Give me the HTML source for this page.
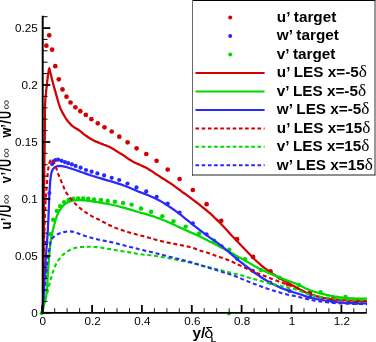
<!DOCTYPE html><html><head><meta charset="utf-8"><style>html,body{margin:0;padding:0;background:#fff;overflow:hidden}svg{display:block}text{font-family:"Liberation Sans",sans-serif}</style></head><body>
<svg width="376" height="342" viewBox="0 0 376 342">
<rect width="376" height="342" fill="#fff"/>
<defs><clipPath id="c"><rect x="41" y="0" width="325.9" height="316"/></clipPath></defs>
<g clip-path="url(#c)" fill="none" stroke-linejoin="bevel">
<circle cx="46.4" cy="45.7" r="2.35" fill="#d20000" stroke="none"/>
<circle cx="49.2" cy="35.3" r="2.35" fill="#d20000" stroke="none"/>
<circle cx="52.1" cy="49.7" r="2.35" fill="#d20000" stroke="none"/>
<circle cx="55.3" cy="66.2" r="2.35" fill="#d20000" stroke="none"/>
<circle cx="58.8" cy="79.3" r="2.35" fill="#d20000" stroke="none"/>
<circle cx="62.5" cy="89.4" r="2.35" fill="#d20000" stroke="none"/>
<circle cx="66.5" cy="96.7" r="2.35" fill="#d20000" stroke="none"/>
<circle cx="70.5" cy="102.5" r="2.35" fill="#d20000" stroke="none"/>
<circle cx="75.4" cy="107.3" r="2.35" fill="#d20000" stroke="none"/>
<circle cx="80.3" cy="111.2" r="2.35" fill="#d20000" stroke="none"/>
<circle cx="85.8" cy="114.9" r="2.35" fill="#d20000" stroke="none"/>
<circle cx="91.4" cy="119.2" r="2.35" fill="#d20000" stroke="none"/>
<circle cx="97.8" cy="123.3" r="2.35" fill="#d20000" stroke="none"/>
<circle cx="104.5" cy="127.3" r="2.35" fill="#d20000" stroke="none"/>
<circle cx="111.7" cy="131.5" r="2.35" fill="#d20000" stroke="none"/>
<circle cx="119.3" cy="136.7" r="2.35" fill="#d20000" stroke="none"/>
<circle cx="127.6" cy="142.3" r="2.35" fill="#d20000" stroke="none"/>
<circle cx="136.6" cy="148.3" r="2.35" fill="#d20000" stroke="none"/>
<circle cx="146.3" cy="154.0" r="2.35" fill="#d20000" stroke="none"/>
<circle cx="156.6" cy="160.8" r="2.35" fill="#d20000" stroke="none"/>
<circle cx="167.7" cy="169.6" r="2.35" fill="#d20000" stroke="none"/>
<circle cx="179.6" cy="179.0" r="2.35" fill="#d20000" stroke="none"/>
<circle cx="192.8" cy="190.0" r="2.35" fill="#d20000" stroke="none"/>
<circle cx="206.6" cy="204.2" r="2.35" fill="#d20000" stroke="none"/>
<circle cx="221.2" cy="220.9" r="2.35" fill="#d20000" stroke="none"/>
<circle cx="237.0" cy="239.2" r="2.35" fill="#d20000" stroke="none"/>
<circle cx="253.1" cy="256.9" r="2.35" fill="#d20000" stroke="none"/>
<circle cx="270.5" cy="271.4" r="2.35" fill="#d20000" stroke="none"/>
<circle cx="288.2" cy="284.2" r="2.35" fill="#d20000" stroke="none"/>
<circle cx="310.0" cy="292.7" r="2.35" fill="#d20000" stroke="none"/>
<circle cx="333.4" cy="298.4" r="2.35" fill="#d20000" stroke="none"/>
<circle cx="357.0" cy="300.8" r="2.35" fill="#d20000" stroke="none"/>
<circle cx="46.4" cy="242.5" r="2.10" fill="#2828ff" stroke="none"/>
<circle cx="49.4" cy="193.1" r="2.10" fill="#2828ff" stroke="none"/>
<circle cx="52.1" cy="164.1" r="2.10" fill="#2828ff" stroke="none"/>
<circle cx="53.4" cy="161.4" r="2.10" fill="#2828ff" stroke="none"/>
<circle cx="55.5" cy="160.0" r="2.10" fill="#2828ff" stroke="none"/>
<circle cx="58.1" cy="159.7" r="2.10" fill="#2828ff" stroke="none"/>
<circle cx="61.5" cy="160.8" r="2.10" fill="#2828ff" stroke="none"/>
<circle cx="64.9" cy="162.1" r="2.10" fill="#2828ff" stroke="none"/>
<circle cx="68.2" cy="163.2" r="2.10" fill="#2828ff" stroke="none"/>
<circle cx="71.9" cy="164.4" r="2.10" fill="#2828ff" stroke="none"/>
<circle cx="75.6" cy="165.9" r="2.10" fill="#2828ff" stroke="none"/>
<circle cx="80.6" cy="167.7" r="2.10" fill="#2828ff" stroke="none"/>
<circle cx="86.0" cy="170.0" r="2.10" fill="#2828ff" stroke="none"/>
<circle cx="91.6" cy="171.7" r="2.10" fill="#2828ff" stroke="none"/>
<circle cx="97.4" cy="173.4" r="2.10" fill="#2828ff" stroke="none"/>
<circle cx="104.1" cy="175.4" r="2.10" fill="#2828ff" stroke="none"/>
<circle cx="111.7" cy="177.8" r="2.10" fill="#2828ff" stroke="none"/>
<circle cx="119.2" cy="180.0" r="2.10" fill="#2828ff" stroke="none"/>
<circle cx="127.5" cy="183.5" r="2.10" fill="#2828ff" stroke="none"/>
<circle cx="136.5" cy="187.4" r="2.10" fill="#2828ff" stroke="none"/>
<circle cx="146.2" cy="191.4" r="2.10" fill="#2828ff" stroke="none"/>
<circle cx="156.7" cy="196.8" r="2.10" fill="#2828ff" stroke="none"/>
<circle cx="167.7" cy="203.5" r="2.10" fill="#2828ff" stroke="none"/>
<circle cx="179.6" cy="212.6" r="2.10" fill="#2828ff" stroke="none"/>
<circle cx="192.8" cy="223.3" r="2.10" fill="#2828ff" stroke="none"/>
<circle cx="206.5" cy="234.3" r="2.10" fill="#2828ff" stroke="none"/>
<circle cx="221.6" cy="246.4" r="2.10" fill="#2828ff" stroke="none"/>
<circle cx="237.2" cy="258.8" r="2.10" fill="#2828ff" stroke="none"/>
<circle cx="252.9" cy="270.9" r="2.10" fill="#2828ff" stroke="none"/>
<circle cx="270.1" cy="282.6" r="2.10" fill="#2828ff" stroke="none"/>
<circle cx="289.5" cy="291.0" r="2.10" fill="#2828ff" stroke="none"/>
<circle cx="310.0" cy="297.2" r="2.10" fill="#2828ff" stroke="none"/>
<circle cx="332.6" cy="301.2" r="2.10" fill="#2828ff" stroke="none"/>
<circle cx="356.0" cy="303.0" r="2.10" fill="#2828ff" stroke="none"/>
<circle cx="46.5" cy="272.0" r="2.20" fill="#00d800" stroke="none"/>
<circle cx="50.5" cy="234.2" r="2.20" fill="#00d800" stroke="none"/>
<circle cx="53.2" cy="219.7" r="2.20" fill="#00d800" stroke="none"/>
<circle cx="56.9" cy="210.9" r="2.20" fill="#00d800" stroke="none"/>
<circle cx="60.1" cy="206.1" r="2.20" fill="#00d800" stroke="none"/>
<circle cx="64.1" cy="202.1" r="2.20" fill="#00d800" stroke="none"/>
<circle cx="68.6" cy="200.0" r="2.20" fill="#00d800" stroke="none"/>
<circle cx="73.3" cy="198.8" r="2.20" fill="#00d800" stroke="none"/>
<circle cx="78.1" cy="198.4" r="2.20" fill="#00d800" stroke="none"/>
<circle cx="83.1" cy="198.4" r="2.20" fill="#00d800" stroke="none"/>
<circle cx="88.2" cy="198.8" r="2.20" fill="#00d800" stroke="none"/>
<circle cx="94.0" cy="199.4" r="2.20" fill="#00d800" stroke="none"/>
<circle cx="100.9" cy="200.0" r="2.20" fill="#00d800" stroke="none"/>
<circle cx="107.7" cy="200.9" r="2.20" fill="#00d800" stroke="none"/>
<circle cx="114.9" cy="201.8" r="2.20" fill="#00d800" stroke="none"/>
<circle cx="123.1" cy="203.0" r="2.20" fill="#00d800" stroke="none"/>
<circle cx="131.6" cy="204.6" r="2.20" fill="#00d800" stroke="none"/>
<circle cx="141.0" cy="208.5" r="2.20" fill="#00d800" stroke="none"/>
<circle cx="151.1" cy="211.8" r="2.20" fill="#00d800" stroke="none"/>
<circle cx="162.3" cy="216.2" r="2.20" fill="#00d800" stroke="none"/>
<circle cx="173.5" cy="221.3" r="2.20" fill="#00d800" stroke="none"/>
<circle cx="185.7" cy="226.6" r="2.20" fill="#00d800" stroke="none"/>
<circle cx="199.1" cy="233.4" r="2.20" fill="#00d800" stroke="none"/>
<circle cx="214.2" cy="240.8" r="2.20" fill="#00d800" stroke="none"/>
<circle cx="229.3" cy="249.6" r="2.20" fill="#00d800" stroke="none"/>
<circle cx="245.0" cy="259.2" r="2.20" fill="#00d800" stroke="none"/>
<circle cx="260.9" cy="270.0" r="2.20" fill="#00d800" stroke="none"/>
<circle cx="279.4" cy="277.7" r="2.20" fill="#00d800" stroke="none"/>
<circle cx="299.0" cy="285.0" r="2.20" fill="#00d800" stroke="none"/>
<circle cx="320.5" cy="292.3" r="2.20" fill="#00d800" stroke="none"/>
<circle cx="345.5" cy="297.0" r="2.20" fill="#00d800" stroke="none"/>
<path d="M42.8,313.0 L42.8,311.8 L42.9,310.5 L42.9,309.3 L42.9,308.1 L42.9,306.8 L42.9,305.6 L43.0,304.4 L43.0,303.2 L43.0,301.9 L43.0,300.7 L43.1,299.5 L43.1,298.2 L43.1,297.0 L43.1,295.8 L43.1,294.5 L43.1,293.3 L43.2,292.1 L43.2,290.8 L43.2,289.6 L43.2,288.4 L43.2,287.2 L43.2,285.9 L43.3,284.7 L43.3,283.5 L43.3,282.2 L43.3,281.0 L43.3,279.8 L43.3,278.5 L43.3,277.3 L43.4,276.1 L43.4,274.8 L43.4,273.6 L43.4,272.4 L43.4,271.2 L43.4,269.9 L43.4,268.7 L43.4,267.5 L43.5,266.2 L43.5,265.0 L43.5,263.8 L43.5,262.5 L43.5,261.3 L43.5,260.1 L43.5,258.8 L43.5,257.6 L43.5,256.4 L43.5,255.1 L43.6,253.9 L43.6,252.7 L43.6,251.5 L43.6,250.2 L43.6,249.0 L43.6,247.8 L43.6,246.5 L43.6,245.3 L43.6,244.1 L43.6,242.8 L43.7,241.6 L43.7,240.4 L43.7,239.1 L43.7,237.9 L43.7,236.7 L43.7,235.5 L43.7,234.2 L43.7,233.0 L43.7,231.8 L43.7,230.5 L43.8,229.3 L43.8,228.1 L43.8,226.8 L43.8,225.6 L43.8,224.4 L43.8,223.1 L43.8,221.9 L43.8,220.7 L43.8,219.5 L43.8,218.2 L43.9,217.0 L43.9,215.8 L43.9,214.5 L43.9,213.3 L43.9,212.1 L43.9,210.8 L43.9,209.6 L43.9,208.4 L43.9,207.1 L44.0,205.9 L44.0,204.7 L44.0,203.5 L44.0,202.2 L44.0,201.0 L44.0,199.8 L44.0,198.5 L44.0,197.3 L44.0,196.1 L44.1,194.8 L44.1,193.6 L44.1,192.4 L44.1,191.1 L44.1,189.9 L44.1,188.7 L44.1,187.4 L44.1,186.2 L44.1,185.0 L44.2,183.8 L44.2,182.5 L44.2,181.3 L44.2,180.1 L44.2,178.8 L44.2,177.6 L44.2,176.4 L44.2,175.1 L44.3,173.9 L44.3,172.7 L44.3,171.4 L44.3,170.2 L44.3,169.0 L44.3,167.8 L44.3,166.5 L44.4,165.3 L44.4,164.1 L44.4,162.8 L44.4,161.6 L44.4,160.4 L44.4,159.1 L44.5,157.9 L44.5,156.7 L44.5,155.4 L44.5,154.2 L44.5,153.0 L44.6,151.8 L44.6,150.5 L44.6,149.3 L44.6,148.1 L44.6,146.8 L44.7,145.6 L44.7,144.4 L44.7,143.1 L44.7,141.9 L44.7,140.7 L44.8,139.4 L44.8,138.2 L44.8,137.0 L44.8,135.8 L44.8,134.5 L44.8,133.3 L44.9,132.1 L44.9,130.8 L44.9,129.6 L44.9,128.4 L44.9,127.1 L44.9,125.9 L44.9,124.7 L44.9,123.4 L44.9,122.2 L44.9,121.0 L44.9,119.7 L44.9,118.5 L44.9,117.3 L44.9,116.0 L44.9,114.8 L44.9,113.6 L44.9,112.4 L44.9,111.1 L44.9,109.9 L45.0,108.7 L45.0,107.4 L45.0,106.2 L45.1,105.0 L45.1,103.7 L45.2,102.5 L45.3,101.3 L45.3,100.1 L45.4,98.8 L45.5,97.6 L45.6,96.4 L45.7,95.2 L45.9,93.9 L46.0,92.7 L46.1,91.5 L46.3,90.3 L46.4,89.0 L46.5,87.8 L46.7,86.6 L46.8,85.4 L46.9,84.1 L47.1,82.9 L47.2,81.7 L47.3,80.5 L47.5,79.2 L47.6,78.0 L47.8,76.8 L47.9,75.6 L48.1,74.4 L48.3,73.1 L48.5,71.9 L48.7,70.7 L48.9,69.5 L49.2,68.3 L49.2,68.3 L49.8,70.3 L50.3,72.3 L50.8,74.3 L51.3,76.3 L51.8,78.4 L52.3,80.4 L52.8,82.4 L53.3,84.4 L53.9,86.4 L54.4,88.4 L55.0,90.4 L55.6,92.4 L56.1,94.4 L56.7,96.4 L57.3,98.4 L57.8,100.5 L58.4,102.5 L59.0,104.4 L59.7,106.4 L60.4,108.4 L61.3,110.2 L62.2,112.1 L63.2,113.9 L64.3,115.8 L65.3,117.5 L66.5,119.3 L67.7,121.0 L69.0,122.6 L70.4,124.1 L71.9,125.6 L73.6,126.8 L75.3,128.0 L77.1,129.0 L78.9,130.2 L80.5,131.4 L82.1,132.7 L83.7,134.1 L85.4,135.3 L87.1,136.5 L88.8,137.7 L90.6,138.8 L92.4,139.8 L94.2,140.8 L96.1,141.6 L98.1,142.4 L100.0,143.2 L101.9,143.9 L103.9,144.7 L105.8,145.4 L107.8,146.2 L109.7,147.1 L111.5,148.0 L113.3,149.0 L115.1,150.1 L116.8,151.3 L118.6,152.4 L120.4,153.5 L122.2,154.5 L123.9,155.6 L125.6,156.8 L127.3,158.1 L129.0,159.2 L130.8,160.3 L132.6,161.4 L134.4,162.4 L136.3,163.3 L138.2,164.1 L140.1,165.0 L142.0,165.8 L143.9,166.7 L145.7,167.6 L147.6,168.6 L149.4,169.7 L151.1,170.8 L152.9,171.9 L154.6,173.1 L156.3,174.3 L158.1,175.4 L159.8,176.5 L161.6,177.7 L163.3,178.8 L165.1,179.9 L166.9,181.0 L168.6,182.1 L170.3,183.2 L172.1,184.4 L173.8,185.6 L175.4,186.8 L177.1,188.1 L178.8,189.3 L180.5,190.5 L182.1,191.8 L183.8,193.0 L185.5,194.2 L187.2,195.4 L188.9,196.7 L190.6,197.9 L192.2,199.1 L193.9,200.4 L195.5,201.6 L197.2,202.9 L198.8,204.2 L200.5,205.5 L202.1,206.8 L203.7,208.1 L205.3,209.4 L206.9,210.7 L208.5,212.1 L210.1,213.4 L211.6,214.8 L213.2,216.2 L214.7,217.7 L216.2,219.1 L217.7,220.6 L219.1,222.0 L220.6,223.5 L222.0,225.0 L223.5,226.5 L224.9,228.1 L226.3,229.6 L227.7,231.1 L229.1,232.7 L230.5,234.2 L231.9,235.7 L233.4,237.2 L234.8,238.8 L236.2,240.3 L237.6,241.8 L239.1,243.3 L240.5,244.8 L241.9,246.3 L243.4,247.8 L244.8,249.3 L246.3,250.8 L247.7,252.3 L249.2,253.8 L250.6,255.3 L252.1,256.8 L253.5,258.2 L255.0,259.7 L256.5,261.1 L258.1,262.5 L259.6,263.9 L261.2,265.3 L262.8,266.6 L264.4,267.9 L266.1,269.2 L267.8,270.4 L269.5,271.6 L271.2,272.8 L272.9,273.9 L274.7,275.0 L276.4,276.2 L278.2,277.2 L280.0,278.3 L281.8,279.4 L283.6,280.4 L285.4,281.4 L287.2,282.4 L289.1,283.4 L290.9,284.4 L292.7,285.4 L294.5,286.4 L296.3,287.5 L298.2,288.5 L300.0,289.5 L301.8,290.4 L303.7,291.4 L305.6,292.3 L307.5,293.1 L309.4,293.9 L311.4,294.6 L313.3,295.2 L315.3,295.8 L317.4,296.4 L319.4,296.9 L321.4,297.3 L323.5,297.8 L325.5,298.1 L327.6,298.5 L329.6,298.8 L331.7,299.0 L333.8,299.3 L335.8,299.5 L337.9,299.7 L340.0,299.9 L342.1,300.0 L344.1,300.2 L346.2,300.3 L348.3,300.4 L350.4,300.5 L352.4,300.6 L354.5,300.7 L356.6,300.8 L358.7,300.8 L360.8,300.9 L362.8,300.9 L364.9,301.0 L367.0,301.0" stroke="#d20000" stroke-width="2.25"/>
<path d="M48.1,68.6 L49.3,66.4 L50.5,68.6 Z" fill="#d20000" stroke="none"/>
<path d="M42.3,313.0 L42.6,310.8 L43.1,308.7 L43.6,306.6 L44.1,304.4 L44.7,302.3 L45.2,300.2 L45.7,298.1 L46.2,295.9 L46.5,293.8 L46.8,291.6 L47.0,289.4 L47.2,287.3 L47.3,285.1 L47.4,282.9 L47.5,280.7 L47.6,278.5 L47.7,276.3 L47.9,274.1 L48.0,271.9 L48.2,269.8 L48.4,267.6 L48.5,265.4 L48.7,263.2 L48.9,261.0 L49.0,258.9 L49.2,256.7 L49.4,254.5 L49.5,252.3 L49.7,250.1 L49.9,248.0 L50.2,245.8 L50.4,243.6 L50.7,241.4 L51.0,239.3 L51.4,237.1 L51.8,235.0 L52.2,232.8 L52.7,230.7 L53.2,228.6 L53.8,226.5 L54.4,224.3 L54.9,222.2 L55.5,220.1 L56.2,218.0 L56.9,216.0 L57.8,214.0 L58.7,212.0 L59.8,210.1 L61.1,208.3 L62.4,206.5 L63.9,204.9 L65.6,203.6 L67.5,202.5 L69.5,201.6 L71.7,201.0 L73.8,200.5 L76.0,200.3 L78.2,200.2 L80.3,200.2 L82.5,200.3 L84.7,200.5 L86.9,200.7 L89.1,201.0 L91.2,201.2 L93.4,201.6 L95.6,201.9 L97.7,202.2 L99.9,202.6 L102.0,202.9 L104.2,203.3 L106.4,203.7 L108.5,204.1 L110.6,204.5 L112.8,205.0 L114.9,205.5 L117.0,206.0 L119.2,206.5 L121.3,207.1 L123.4,207.6 L125.5,208.2 L127.6,208.8 L129.7,209.4 L131.8,210.1 L133.9,210.7 L136.0,211.3 L138.1,212.0 L140.2,212.6 L142.3,213.1 L144.4,213.7 L146.5,214.3 L148.6,214.9 L150.7,215.6 L152.8,216.2 L154.9,216.9 L156.9,217.7 L159.0,218.4 L161.0,219.2 L163.1,220.0 L165.1,220.8 L167.1,221.6 L169.1,222.5 L171.1,223.4 L173.1,224.3 L175.1,225.2 L177.1,226.2 L179.1,227.1 L181.1,228.0 L183.1,228.9 L185.0,229.8 L187.0,230.7 L189.0,231.6 L191.0,232.5 L193.0,233.4 L195.0,234.2 L197.0,235.1 L199.0,236.0 L201.0,237.0 L202.9,238.0 L204.8,239.0 L206.8,240.1 L208.7,241.1 L210.7,242.0 L212.7,243.0 L214.6,243.9 L216.6,244.9 L218.6,245.9 L220.5,246.9 L222.4,247.9 L224.3,249.0 L226.2,250.0 L228.1,251.1 L230.1,252.2 L232.0,253.3 L233.9,254.3 L235.8,255.4 L237.7,256.5 L239.6,257.6 L241.5,258.6 L243.4,259.7 L245.3,260.7 L247.2,261.8 L249.1,262.9 L251.0,264.0 L252.9,265.1 L254.8,266.2 L256.7,267.2 L258.7,268.3 L260.6,269.2 L262.6,270.2 L264.6,271.1 L266.6,272.0 L268.6,272.9 L270.6,273.7 L272.6,274.6 L274.6,275.4 L276.7,276.2 L278.7,277.1 L280.7,277.9 L282.7,278.7 L284.7,279.6 L286.8,280.4 L288.8,281.1 L290.9,281.8 L293.0,282.5 L295.0,283.3 L297.0,284.1 L299.0,285.0 L301.0,286.0 L303.0,287.0 L304.9,287.9 L306.9,288.9 L308.9,289.7 L311.0,290.5 L313.0,291.2 L315.1,291.9 L317.2,292.5 L319.3,293.1 L321.5,293.6 L323.6,294.1 L325.7,294.6 L327.9,295.1 L330.0,295.6 L332.2,296.0 L334.3,296.4 L336.5,296.7 L338.6,297.1 L340.8,297.3 L343.0,297.6 L345.1,297.8 L347.3,298.0 L349.5,298.2 L351.7,298.3 L353.9,298.4 L356.1,298.5 L358.3,298.5 L360.4,298.6 L362.6,298.6 L364.8,298.6 L367.0,298.6" stroke="#00d800" stroke-width="2.25"/>
<path d="M42.3,313.0 L42.5,310.5 L42.8,308.0 L43.0,305.5 L43.2,303.1 L43.3,300.6 L43.5,298.1 L43.7,295.6 L43.8,293.1 L44.0,290.6 L44.1,288.1 L44.2,285.6 L44.4,283.2 L44.5,280.7 L44.6,278.2 L44.7,275.7 L44.9,273.2 L45.0,270.7 L45.1,268.2 L45.3,265.7 L45.4,263.2 L45.6,260.8 L45.8,258.3 L45.9,255.8 L46.1,253.3 L46.3,250.8 L46.5,248.3 L46.7,245.8 L46.9,243.4 L47.1,240.9 L47.3,238.4 L47.5,235.9 L47.6,233.4 L47.8,230.9 L47.9,228.4 L48.0,225.9 L48.1,223.5 L48.3,221.0 L48.4,218.5 L48.5,216.0 L48.6,213.5 L48.7,211.0 L48.8,208.5 L48.9,206.0 L49.0,203.5 L49.1,201.0 L49.2,198.5 L49.3,196.1 L49.4,193.6 L49.6,191.1 L49.7,188.6 L49.9,186.1 L50.0,183.6 L50.2,181.1 L50.5,178.6 L50.8,176.2 L51.2,173.7 L51.9,171.3 L53.0,169.0 L54.8,167.2 L57.0,166.2 L59.5,165.9 L62.0,166.1 L64.5,166.6 L66.9,167.2 L69.3,168.0 L71.6,168.7 L74.0,169.5 L76.4,170.3 L78.7,171.1 L81.1,172.0 L83.4,172.8 L85.8,173.6 L88.1,174.4 L90.5,175.2 L92.9,176.0 L95.2,176.7 L97.6,177.5 L100.0,178.2 L102.4,178.9 L104.8,179.6 L107.2,180.3 L109.6,181.0 L112.0,181.7 L114.4,182.4 L116.7,183.1 L119.1,183.9 L121.5,184.6 L123.8,185.5 L126.2,186.4 L128.5,187.3 L130.8,188.3 L133.1,189.2 L135.4,190.2 L137.7,191.2 L140.0,192.1 L142.3,193.0 L144.6,193.9 L147.0,194.8 L149.3,195.7 L151.6,196.7 L153.9,197.7 L156.1,198.7 L158.3,199.9 L160.5,201.1 L162.7,202.4 L164.8,203.7 L166.9,205.1 L168.9,206.4 L171.0,207.8 L173.1,209.2 L175.1,210.7 L177.1,212.1 L179.1,213.7 L181.1,215.2 L183.0,216.7 L185.0,218.3 L186.9,219.8 L188.9,221.4 L190.8,223.0 L192.7,224.5 L194.7,226.1 L196.7,227.6 L198.6,229.1 L200.6,230.7 L202.6,232.2 L204.5,233.7 L206.5,235.2 L208.6,236.7 L210.6,238.1 L212.7,239.5 L214.8,240.9 L216.8,242.3 L218.8,243.8 L220.8,245.3 L222.7,246.9 L224.6,248.5 L226.5,250.1 L228.4,251.7 L230.3,253.4 L232.2,255.0 L234.1,256.6 L236.0,258.2 L237.9,259.8 L239.8,261.4 L241.8,262.9 L243.8,264.4 L245.7,266.0 L247.7,267.5 L249.7,269.0 L251.7,270.5 L253.7,272.0 L255.7,273.5 L257.7,274.9 L259.8,276.3 L261.9,277.7 L264.0,279.0 L266.1,280.3 L268.3,281.6 L270.4,282.8 L272.7,283.9 L274.9,285.1 L277.1,286.1 L279.4,287.2 L281.7,288.1 L284.0,289.0 L286.4,289.9 L288.7,290.7 L291.1,291.4 L293.5,292.2 L295.9,293.0 L298.2,293.7 L300.6,294.5 L303.0,295.3 L305.3,296.1 L307.7,296.8 L310.1,297.4 L312.5,298.0 L315.0,298.6 L317.4,299.1 L319.9,299.6 L322.3,300.0 L324.8,300.5 L327.2,300.9 L329.7,301.2 L332.2,301.6 L334.6,301.9 L337.1,302.2 L339.6,302.4 L342.1,302.6 L344.6,302.8 L347.1,303.0 L349.6,303.1 L352.0,303.2 L354.5,303.2 L357.0,303.3 L359.5,303.3 L362.0,303.4 L364.5,303.4 L367.0,303.4" stroke="#2828ff" stroke-width="2.25"/>
<path d="M42.8,313.0 L42.9,310.4 L42.9,307.8 L43.0,305.2 L43.1,302.6 L43.1,300.0 L43.2,297.4 L43.2,294.8 L43.3,292.2 L43.3,289.6 L43.4,287.0 L43.4,284.4 L43.4,281.8 L43.5,279.3 L43.5,276.7 L43.6,274.1 L43.6,271.5 L43.6,268.9 L43.7,266.3 L43.7,263.7 L43.8,261.1 L43.8,258.5 L43.9,255.9 L43.9,253.3 L44.0,250.7 L44.0,248.1 L44.1,245.5 L44.1,242.9 L44.2,240.3 L44.3,237.7 L44.3,235.1 L44.4,232.5 L44.5,229.9 L44.6,227.3 L44.7,224.7 L44.7,222.1 L44.8,219.5 L44.9,217.0 L45.0,214.4 L45.2,211.8 L45.3,209.2 L45.4,206.6 L45.5,204.0 L45.6,201.4 L45.8,198.8 L46.0,196.2 L46.1,193.6 L46.3,191.1 L46.6,188.5 L46.8,185.9 L47.0,183.3 L47.2,180.7 L47.4,178.1 L47.6,175.4 L47.8,172.8 L48.1,170.2 L48.4,167.6 L48.8,165.1 L49.4,162.8 L50.6,160.2 L52.4,159.5 L53.8,162.1 L54.8,164.4 L55.7,166.7 L56.6,169.1 L57.4,171.6 L58.3,174.1 L59.3,176.6 L60.3,179.0 L61.3,181.4 L62.3,183.7 L63.3,186.1 L64.2,188.5 L65.3,190.9 L66.6,193.2 L68.1,195.3 L69.6,197.4 L71.3,199.4 L73.0,201.4 L74.8,203.3 L76.6,205.1 L78.5,206.9 L80.5,208.5 L82.5,210.1 L84.6,211.7 L86.8,213.1 L89.0,214.5 L91.2,215.8 L93.5,217.1 L95.8,218.2 L98.2,219.3 L100.5,220.5 L102.8,221.7 L105.1,222.9 L107.4,224.2 L109.7,225.3 L112.0,226.4 L114.4,227.4 L116.9,228.4 L119.3,229.3 L121.8,230.1 L124.2,230.9 L126.7,231.6 L129.2,232.4 L131.7,233.1 L134.2,233.8 L136.7,234.4 L139.2,235.1 L141.7,235.8 L144.3,236.4 L146.8,237.1 L149.3,237.8 L151.8,238.5 L154.2,239.3 L156.7,240.0 L159.3,240.7 L161.8,241.3 L164.3,241.9 L166.8,242.4 L169.4,242.9 L171.9,243.4 L174.5,243.9 L177.0,244.4 L179.6,244.9 L182.1,245.4 L184.7,245.9 L187.2,246.4 L189.8,247.0 L192.3,247.7 L194.7,248.6 L197.1,249.5 L199.6,250.4 L202.1,251.2 L204.5,251.9 L207.0,252.6 L209.5,253.4 L212.0,254.3 L214.4,255.2 L216.8,256.1 L219.3,256.9 L221.8,257.7 L224.2,258.6 L226.7,259.5 L229.1,260.4 L231.5,261.4 L233.8,262.5 L236.2,263.6 L238.5,264.8 L240.8,265.9 L243.2,267.0 L245.5,268.1 L247.9,269.2 L250.3,270.2 L252.7,271.2 L255.1,272.2 L257.5,273.2 L259.9,274.1 L262.3,275.1 L264.7,276.0 L267.1,277.0 L269.6,278.0 L272.0,278.9 L274.4,279.8 L276.8,280.8 L279.3,281.7 L281.7,282.5 L284.2,283.4 L286.6,284.3 L289.1,285.1 L291.5,286.0 L294.0,286.9 L296.4,287.8 L298.7,288.9 L301.1,290.0 L303.4,291.1 L305.8,292.2 L308.1,293.3 L310.6,294.2 L313.0,295.1 L315.5,295.9 L318.0,296.6 L320.5,297.2 L323.1,297.8 L325.6,298.3 L328.2,298.7 L330.7,299.1 L333.3,299.4 L335.9,299.8 L338.5,300.0 L341.1,300.3 L343.7,300.5 L346.2,300.7 L348.8,300.9 L351.4,301.1 L354.0,301.2 L356.6,301.4 L359.2,301.5 L361.8,301.5 L364.4,301.6 L367.0,301.6" stroke="#d20000" stroke-width="2.1" stroke-dasharray="4 2.8"/>
<path d="M42.3,313.0 L42.6,311.1 L42.9,309.3 L43.2,307.4 L43.6,305.6 L44.0,303.7 L44.5,301.9 L45.0,300.1 L45.5,298.3 L46.1,296.5 L46.6,294.7 L47.2,292.9 L47.7,291.1 L48.2,289.3 L48.7,287.5 L49.1,285.6 L49.5,283.8 L50.0,282.0 L50.4,280.2 L51.0,278.4 L51.5,276.6 L52.1,274.8 L52.6,273.0 L53.2,271.2 L53.9,269.4 L54.5,267.6 L55.2,265.9 L56.0,264.2 L56.9,262.5 L57.9,260.9 L59.0,259.3 L60.1,257.9 L61.4,256.4 L62.7,255.1 L64.1,253.8 L65.6,252.7 L67.1,251.6 L68.7,250.6 L70.4,249.7 L72.1,249.0 L73.9,248.3 L75.7,247.8 L77.6,247.4 L79.4,247.1 L81.3,247.0 L83.2,246.9 L85.1,246.8 L87.0,246.8 L88.8,246.8 L90.7,246.8 L92.6,246.9 L94.5,247.0 L96.4,247.1 L98.2,247.3 L100.1,247.5 L102.0,247.8 L103.8,248.1 L105.7,248.4 L107.5,248.7 L109.4,249.0 L111.2,249.4 L113.1,249.7 L115.0,250.0 L116.8,250.3 L118.7,250.6 L120.5,250.9 L122.4,251.2 L124.2,251.5 L126.1,251.8 L128.0,252.1 L129.8,252.4 L131.7,252.7 L133.5,253.0 L135.4,253.4 L137.2,253.7 L139.1,254.0 L141.0,254.2 L142.8,254.5 L144.7,254.7 L146.6,254.9 L148.4,255.0 L150.3,255.2 L152.2,255.5 L154.0,255.7 L155.9,256.0 L157.8,256.3 L159.6,256.6 L161.5,256.9 L163.3,257.3 L165.2,257.6 L167.0,257.9 L168.9,258.3 L170.7,258.6 L172.6,259.0 L174.4,259.3 L176.3,259.7 L178.1,260.1 L179.9,260.5 L181.8,260.9 L183.6,261.2 L185.5,261.6 L187.3,262.0 L189.2,262.4 L191.0,262.8 L192.8,263.3 L194.7,263.7 L196.5,264.1 L198.3,264.6 L200.1,265.0 L202.0,265.5 L203.8,265.9 L205.6,266.4 L207.4,266.9 L209.3,267.3 L211.1,267.8 L212.9,268.2 L214.7,268.7 L216.6,269.1 L218.4,269.6 L220.2,270.0 L222.0,270.5 L223.9,271.0 L225.7,271.4 L227.5,271.9 L229.3,272.4 L231.2,272.8 L233.0,273.2 L234.8,273.7 L236.7,274.1 L238.5,274.5 L240.3,275.0 L242.1,275.5 L243.9,276.0 L245.7,276.6 L247.5,277.2 L249.3,277.7 L251.1,278.3 L252.9,278.8 L254.7,279.3 L256.5,279.8 L258.4,280.3 L260.2,280.8 L262.0,281.3 L263.8,281.7 L265.7,282.2 L267.5,282.7 L269.3,283.1 L271.1,283.5 L273.0,284.0 L274.8,284.4 L276.6,284.8 L278.5,285.3 L280.3,285.7 L282.1,286.2 L283.9,286.7 L285.7,287.2 L287.6,287.7 L289.4,288.1 L291.2,288.4 L293.1,288.8 L294.9,289.2 L296.7,289.7 L298.5,290.3 L300.3,291.0 L302.0,291.7 L303.8,292.4 L305.5,293.1 L307.3,293.7 L309.1,294.3 L310.9,294.8 L312.7,295.2 L314.6,295.6 L316.4,296.0 L318.3,296.4 L320.1,296.7 L322.0,297.0 L323.9,297.3 L325.7,297.5 L327.6,297.8 L329.5,298.0 L331.3,298.3 L333.2,298.5 L335.1,298.7 L336.9,298.9 L338.8,299.1 L340.7,299.2 L342.6,299.4 L344.4,299.5 L346.3,299.6 L348.2,299.7 L350.1,299.8 L352.0,299.9 L353.8,300.0 L355.7,300.0 L357.6,300.1 L359.5,300.1 L361.4,300.2 L363.2,300.2 L365.1,300.3 L367.0,300.3" stroke="#00d800" stroke-width="2.1" stroke-dasharray="4 2.8"/>
<path d="M42.3,313.0 L42.5,311.0 L42.7,309.0 L42.8,307.0 L43.0,304.9 L43.2,302.9 L43.4,300.9 L43.6,298.9 L43.8,296.9 L44.0,294.9 L44.2,292.9 L44.4,290.9 L44.6,288.9 L44.8,286.9 L45.0,284.8 L45.2,282.8 L45.4,280.8 L45.6,278.8 L45.8,276.8 L46.0,274.8 L46.2,272.8 L46.4,270.7 L46.6,268.7 L46.8,266.7 L47.0,264.7 L47.2,262.7 L47.5,260.7 L47.8,258.7 L48.0,256.7 L48.4,254.7 L48.7,252.7 L49.1,250.8 L49.4,248.8 L49.7,246.8 L50.0,244.7 L50.4,242.7 L50.9,240.8 L51.8,239.0 L53.1,237.4 L54.6,236.0 L56.3,234.9 L58.1,234.0 L59.9,233.3 L61.9,232.7 L63.9,232.1 L65.9,231.7 L67.9,231.4 L69.9,231.4 L71.9,231.6 L73.9,232.1 L75.8,232.6 L77.8,233.3 L79.6,234.0 L81.5,234.7 L83.4,235.4 L85.3,236.1 L87.3,236.6 L89.2,237.2 L91.2,237.7 L93.1,238.3 L95.1,238.8 L97.0,239.2 L99.0,239.7 L101.0,240.1 L103.0,240.5 L105.0,240.9 L106.9,241.3 L108.9,241.7 L110.9,242.1 L112.9,242.6 L114.8,243.1 L116.8,243.6 L118.7,244.1 L120.7,244.6 L122.7,245.1 L124.6,245.6 L126.6,246.0 L128.6,246.5 L130.5,247.0 L132.5,247.5 L134.4,248.0 L136.4,248.5 L138.3,249.1 L140.3,249.6 L142.3,250.0 L144.2,250.4 L146.2,250.9 L148.2,251.3 L150.1,251.8 L152.1,252.3 L154.1,252.8 L156.0,253.3 L158.0,253.8 L159.9,254.3 L161.9,254.8 L163.9,255.3 L165.8,255.7 L167.8,256.2 L169.7,256.7 L171.7,257.2 L173.7,257.7 L175.6,258.2 L177.6,258.7 L179.5,259.2 L181.5,259.7 L183.5,260.2 L185.4,260.7 L187.4,261.2 L189.3,261.7 L191.3,262.3 L193.2,262.9 L195.1,263.5 L197.1,264.1 L199.0,264.7 L200.9,265.3 L202.8,265.9 L204.8,266.5 L206.7,267.1 L208.6,267.7 L210.6,268.3 L212.5,268.9 L214.4,269.5 L216.4,270.1 L218.3,270.7 L220.2,271.3 L222.1,271.9 L224.1,272.5 L226.0,273.1 L227.9,273.7 L229.9,274.3 L231.8,274.9 L233.7,275.6 L235.6,276.3 L237.5,277.1 L239.3,277.8 L241.2,278.6 L243.1,279.4 L244.9,280.1 L246.8,280.9 L248.7,281.7 L250.6,282.4 L252.4,283.2 L254.3,283.9 L256.2,284.6 L258.1,285.4 L260.0,286.1 L261.9,286.8 L263.8,287.5 L265.7,288.1 L267.6,288.8 L269.5,289.4 L271.5,290.0 L273.4,290.6 L275.3,291.2 L277.3,291.7 L279.2,292.3 L281.1,292.9 L283.1,293.4 L285.0,293.9 L287.0,294.4 L289.0,294.9 L291.0,295.3 L292.9,295.6 L294.9,296.0 L296.9,296.4 L298.9,296.9 L300.8,297.4 L302.8,297.9 L304.7,298.5 L306.7,298.9 L308.7,299.4 L310.6,299.8 L312.6,300.2 L314.6,300.6 L316.6,300.9 L318.6,301.2 L320.6,301.5 L322.6,301.8 L324.6,302.0 L326.6,302.3 L328.6,302.5 L330.7,302.7 L332.7,302.9 L334.7,303.0 L336.7,303.2 L338.7,303.3 L340.7,303.4 L342.8,303.5 L344.8,303.6 L346.8,303.7 L348.8,303.8 L350.8,303.8 L352.9,303.9 L354.9,303.9 L356.9,304.0 L358.9,304.0 L360.9,304.0 L363.0,304.1 L365.0,304.1 L367.0,304.2" stroke="#2828ff" stroke-width="2.1" stroke-dasharray="4 2.8"/>
</g>
<circle cx="228.9" cy="313.6" r="2" fill="#00d800"/><circle cx="41.8" cy="313.2" r="2.1" fill="#00d800"/>
<g stroke="#000" fill="none">
<path d="M42.7,15.8 V313.7" stroke-width="1.95"/>
<path d="M41.2,312.8 H366.8" stroke-width="1.8"/>
<path d="M42,312.8 h8.3" stroke-width="1.8"/><path d="M42,301.4 h5.5" stroke-width="1"/><path d="M42,290.0 h5.5" stroke-width="1"/><path d="M42,278.6 h5.5" stroke-width="1"/><path d="M42,267.2 h5.5" stroke-width="1"/><path d="M42,255.9 h8.3" stroke-width="1.8"/><path d="M42,244.5 h5.5" stroke-width="1"/><path d="M42,233.1 h5.5" stroke-width="1"/><path d="M42,221.7 h5.5" stroke-width="1"/><path d="M42,210.3 h5.5" stroke-width="1"/><path d="M42,198.9 h8.3" stroke-width="1.8"/><path d="M42,187.5 h5.5" stroke-width="1"/><path d="M42,176.1 h5.5" stroke-width="1"/><path d="M42,164.7 h5.5" stroke-width="1"/><path d="M42,153.3 h5.5" stroke-width="1"/><path d="M42,142.0 h8.3" stroke-width="1.8"/><path d="M42,130.6 h5.5" stroke-width="1"/><path d="M42,119.2 h5.5" stroke-width="1"/><path d="M42,107.8 h5.5" stroke-width="1"/><path d="M42,96.4 h5.5" stroke-width="1"/><path d="M42,85.0 h8.3" stroke-width="1.8"/><path d="M42,73.6 h5.5" stroke-width="1"/><path d="M42,62.2 h5.5" stroke-width="1"/><path d="M42,50.8 h5.5" stroke-width="1"/><path d="M42,39.4 h5.5" stroke-width="1"/><path d="M42,28.1 h8.3" stroke-width="1.8"/><path d="M42,16.7 h5.5" stroke-width="1"/><path d="M42.2,313 v-8" stroke-width="1.8"/><path d="M54.7,313 v-4.8" stroke-width="0.9"/><path d="M67.1,313 v-4.8" stroke-width="0.9"/><path d="M79.6,313 v-4.8" stroke-width="0.9"/><path d="M92.1,313 v-8" stroke-width="1.8"/><path d="M104.5,313 v-4.8" stroke-width="0.9"/><path d="M117.0,313 v-4.8" stroke-width="0.9"/><path d="M129.5,313 v-4.8" stroke-width="0.9"/><path d="M141.9,313 v-8" stroke-width="1.8"/><path d="M154.4,313 v-4.8" stroke-width="0.9"/><path d="M166.9,313 v-4.8" stroke-width="0.9"/><path d="M179.3,313 v-4.8" stroke-width="0.9"/><path d="M191.8,313 v-8" stroke-width="1.8"/><path d="M204.2,313 v-4.8" stroke-width="0.9"/><path d="M216.7,313 v-4.8" stroke-width="0.9"/><path d="M229.2,313 v-4.8" stroke-width="0.9"/><path d="M241.6,313 v-8" stroke-width="1.8"/><path d="M254.1,313 v-4.8" stroke-width="0.9"/><path d="M266.6,313 v-4.8" stroke-width="0.9"/><path d="M279.0,313 v-4.8" stroke-width="0.9"/><path d="M291.5,313 v-8" stroke-width="1.8"/><path d="M304.0,313 v-4.8" stroke-width="0.9"/><path d="M316.4,313 v-4.8" stroke-width="0.9"/><path d="M328.9,313 v-4.8" stroke-width="0.9"/><path d="M341.4,313 v-8" stroke-width="1.8"/><path d="M353.8,313 v-4.8" stroke-width="0.9"/><path d="M366.3,313 v-4.8" stroke-width="0.9"/>
</g>
<g font-size="11.7" fill="#000">
<text transform="translate(37.8,316.7) scale(1,0.9)" text-anchor="end">0</text>
<text transform="translate(37.8,259.8) scale(1,0.9)" text-anchor="end">0.05</text>
<text transform="translate(37.8,202.8) scale(1,0.9)" text-anchor="end">0.1</text>
<text transform="translate(37.8,145.9) scale(1,0.9)" text-anchor="end">0.15</text>
<text transform="translate(37.8,88.9) scale(1,0.9)" text-anchor="end">0.2</text>
<text transform="translate(37.8,32.0) scale(1,0.9)" text-anchor="end">0.25</text>
<text transform="translate(42.7,325.2) scale(1,0.9)" text-anchor="middle">0</text>
<text transform="translate(92.6,325.2) scale(1,0.9)" text-anchor="middle">0.2</text>
<text transform="translate(142.4,325.2) scale(1,0.9)" text-anchor="middle">0.4</text>
<text transform="translate(192.3,325.2) scale(1,0.9)" text-anchor="middle">0.6</text>
<text transform="translate(242.1,325.2) scale(1,0.9)" text-anchor="middle">0.8</text>
<text transform="translate(292.0,325.2) scale(1,0.9)" text-anchor="middle">1</text>
<text transform="translate(341.9,325.2) scale(1,0.9)" text-anchor="middle">1.2</text>
</g>
<text transform="translate(192.6,337.7) scale(1,0.95)" font-size="15.3" font-weight="bold">y/</text>
<text transform="translate(204.2,337.9) scale(1.05,0.95)" font-family="Liberation Serif,serif" font-size="15.5">δ</text>
<text transform="translate(210.8,341.7) scale(1,0.9)" font-size="8.7" font-weight="bold">L</text>
<g transform="translate(10.6,229.3) rotate(-90)" font-size="15.4" font-weight="bold"><text transform="translate(-0.3,0) scale(0.83,1)">u</text><text transform="translate(8.0,0) scale(0.83,1)">’</text><text transform="translate(12.0,0) scale(0.95,1)">/</text><text transform="translate(16.6,0) scale(0.72,1.06)">U</text><text transform="translate(25.3,-0.9) scale(1.15,1)" font-size="12" font-weight="normal" fill="#333">∞</text></g>
<g transform="translate(10.6,183.3) rotate(-90)" font-size="15.4" font-weight="bold"><text transform="translate(0.0,0) scale(0.83,1)">v</text><text transform="translate(7.8,0) scale(0.83,1)">’</text><text transform="translate(11.8,0) scale(0.95,1)">/</text><text transform="translate(16.4,0) scale(0.72,1.06)">U</text><text transform="translate(25.5,-0.9) scale(1.15,1)" font-size="12" font-weight="normal" fill="#333">∞</text></g>
<g transform="translate(10.6,137.5) rotate(-90)" font-size="15.4" font-weight="bold"><text transform="translate(0.0,0) scale(0.83,1)">w</text><text transform="translate(9.8,0) scale(0.83,1)">’</text><text transform="translate(13.6,0) scale(0.95,1)">/</text><text transform="translate(18.6,0) scale(0.72,1.06)">U</text><text transform="translate(28.0,-0.9) scale(1.15,1)" font-size="12" font-weight="normal" fill="#333">∞</text></g>
<rect x="192" y="0" width="183.4" height="175.6" fill="#fff"/>
<path d="M192,0.5 H375.4" stroke="#000" stroke-width="1"/><path d="M192.5,0 V175.6" stroke="#6a6a6a" stroke-width="1"/><path d="M375,0 V175.5" stroke="#333" stroke-width="1"/><path d="M192,175 H375.2" stroke="#222" stroke-width="1"/>
<circle cx="230.2" cy="17.6" r="2" fill="#d20000"/>
<text transform="translate(276.8,21.8) scale(1,0.92)" font-size="15.3" font-weight="bold">u’ target</text>
<circle cx="230.2" cy="36.0" r="2" fill="#2828ff"/>
<text transform="translate(276.8,40.3) scale(1,0.92)" font-size="15.3" font-weight="bold">w’ target</text>
<circle cx="230.2" cy="54.5" r="2" fill="#00d800"/>
<text transform="translate(276.8,58.8) scale(1,0.92)" font-size="15.3" font-weight="bold">v’ target</text>
<path d="M195.5,73.1 H264.6" stroke="#d20000" stroke-width="2"/>
<text transform="translate(276.8,77.4) scale(1,0.92)" font-size="15.3" font-weight="bold">u’ LES x=-5<tspan font-family="Liberation Serif,serif" font-weight="normal" font-size="17.3">δ</tspan></text>
<path d="M195.5,91.5 H264.6" stroke="#00d800" stroke-width="2"/>
<text transform="translate(276.8,95.9) scale(1,0.92)" font-size="15.3" font-weight="bold">v’ LES x=-5<tspan font-family="Liberation Serif,serif" font-weight="normal" font-size="17.3">δ</tspan></text>
<path d="M195.5,110.0 H264.6" stroke="#2828ff" stroke-width="2"/>
<text transform="translate(276.8,114.4) scale(1,0.92)" font-size="15.3" font-weight="bold">w’ LES x=-5<tspan font-family="Liberation Serif,serif" font-weight="normal" font-size="17.3">δ</tspan></text>
<path d="M195.5,128.4 H264.6" stroke="#d20000" stroke-width="2" stroke-dasharray="3.6 2.6"/>
<text transform="translate(276.8,132.9) scale(1,0.92)" font-size="15.3" font-weight="bold">u’ LES x=15<tspan font-family="Liberation Serif,serif" font-weight="normal" font-size="17.3">δ</tspan></text>
<path d="M195.5,146.8 H264.6" stroke="#00d800" stroke-width="2" stroke-dasharray="3.6 2.6"/>
<text transform="translate(276.8,151.4) scale(1,0.92)" font-size="15.3" font-weight="bold">v’ LES x=15<tspan font-family="Liberation Serif,serif" font-weight="normal" font-size="17.3">δ</tspan></text>
<path d="M195.5,165.2 H264.6" stroke="#2828ff" stroke-width="2" stroke-dasharray="3.6 2.6"/>
<text transform="translate(276.8,170.0) scale(1,0.92)" font-size="15.3" font-weight="bold">w’ LES x=15<tspan font-family="Liberation Serif,serif" font-weight="normal" font-size="17.3">δ</tspan></text>
</svg></body></html>
